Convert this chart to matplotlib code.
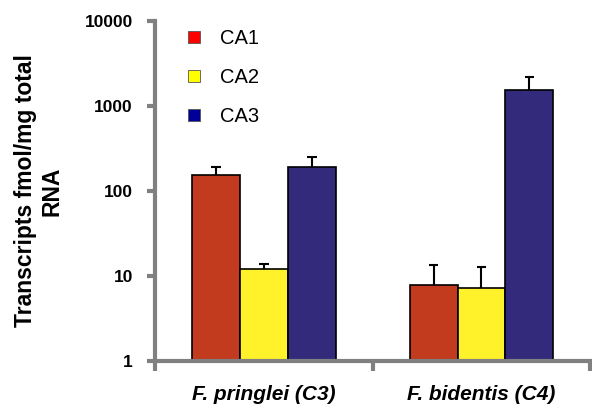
import matplotlib
matplotlib.use("Agg")
import matplotlib.pyplot as plt
import numpy as np

plt.rcParams['font.family'] = ['Liberation Sans', 'DejaVu Sans']

categories = ['F. pringlei (C3)', 'F. bidentis (C4)']
series = ['CA1', 'CA2', 'CA3']
values = {
    'CA1': [155, 7.8],
    'CA2': [12.2, 7.3],
    'CA3': [190, 1530],
}
errors = {
    'CA1': [37, 5.7],
    'CA2': [1.6, 5.6],
    'CA3': [60, 650],
}
bar_colors = {'CA1': '#C23B1E', 'CA2': '#FFF22A', 'CA3': '#342A7B'}
legend_colors = {'CA1': '#FF0000', 'CA2': '#FFFF00', 'CA3': '#000099'}

fig = plt.figure(figsize=(5.92, 4.08), dpi=100)
ax = fig.add_axes([0.262, 0.115, 0.735, 0.834])

grey = '#808080'
width = 0.22
offsets = [-0.22, 0.0, 0.22]
cap = 0.022
x = np.arange(len(categories)) + 0.5

for s, off in zip(series, offsets):
    xs = x + off
    ax.bar(xs, values[s], width, color=bar_colors[s],
           edgecolor='black', linewidth=1.2, zorder=2)
    tops = np.array(values[s]) + np.array(errors[s])
    # upper error bars only
    ax.vlines(xs, values[s], tops, color='black', linewidth=1.5, zorder=1)
    ax.hlines(tops, xs - cap, xs + cap, color='black', linewidth=1.5, zorder=1)

ax.set_yscale('log')
ax.set_ylim(1, 10000)
ax.set_xlim(0, 2)

for sp in ['top', 'right']:
    ax.spines[sp].set_visible(False)
for sp in ['left', 'bottom']:
    ax.spines[sp].set_color(grey)
    ax.spines[sp].set_linewidth(3)
    ax.spines[sp].set_zorder(4)

ax.set_yticks([1, 10, 100, 1000, 10000])
ax.set_yticklabels(['1', '10', '100', '1000', '10000'])
ax.yaxis.set_minor_locator(matplotlib.ticker.NullLocator())
ax.tick_params(axis='y', colors=grey, width=3, length=6, labelcolor='black',
               labelsize=12.5, pad=10)
for t in ax.get_yticklabels():
    t.set_fontweight('bold')

ax.set_xticks([0, 1, 2])
ax.set_xticklabels(['', '', ''])
ax.tick_params(axis='x', which='major', colors=grey, width=3, length=7)
ax.set_xticks(x, minor=True)
ax.set_xticklabels(categories, minor=True, fontsize=15, fontweight='bold',
                   fontstyle='italic')
ax.tick_params(axis='x', which='minor', length=0, pad=17, labelcolor='black')

ax.set_ylabel('Transcripts fmol/mg total\nRNA', fontsize=16.5, fontweight='bold',
              labelpad=15, linespacing=1.2)

handles = [plt.Rectangle((0, 0), 1, 1, facecolor=legend_colors[s],
                         edgecolor='#555555', linewidth=0.6) for s in series]
ax.legend(handles, series, loc='upper left', bbox_to_anchor=(0.035, 1.03),
          frameon=False, fontsize=14.5, handlelength=0.55, handleheight=0.55,
          labelspacing=1.0, handletextpad=1.0)

fig.savefig('out.png', dpi=100)
